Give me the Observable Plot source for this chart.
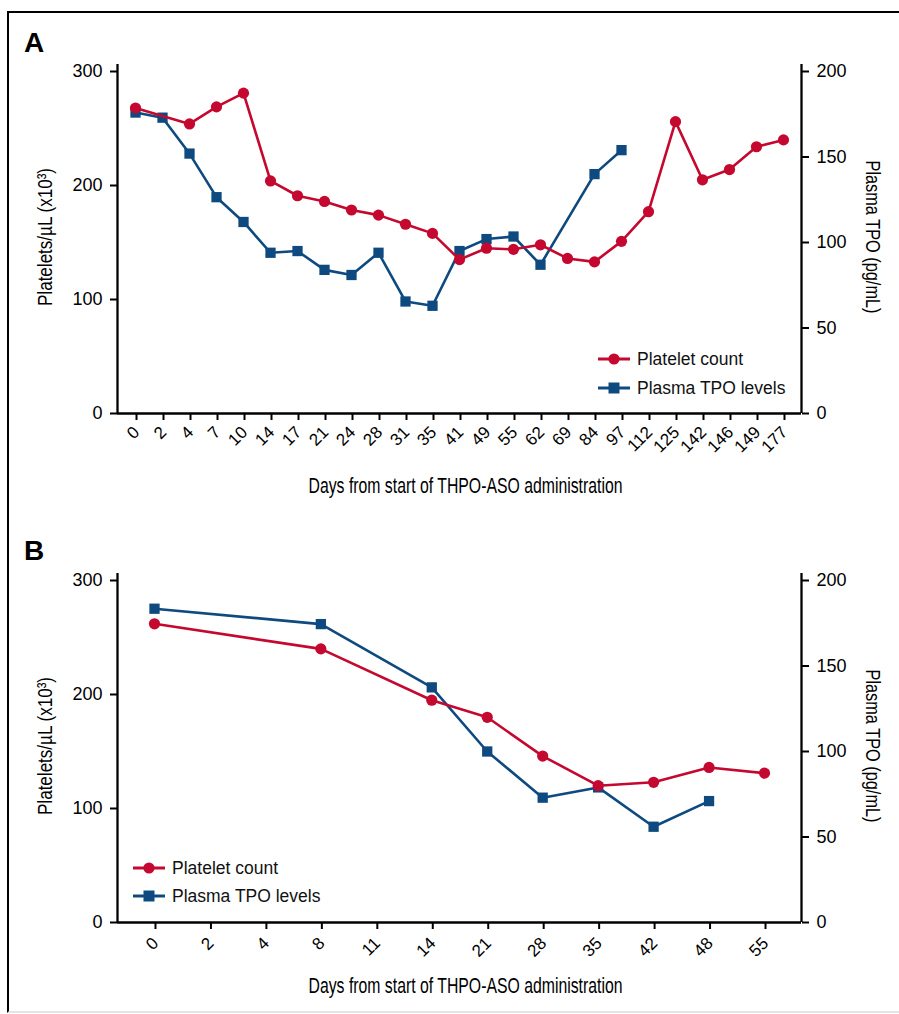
<!DOCTYPE html>
<html><head><meta charset="utf-8">
<script src="https://cdn.jsdelivr.net/npm/d3@7"></script>
<script src="https://cdn.jsdelivr.net/npm/@observablehq/plot@0.6"></script>
<style>
body{margin:0;background:#fff;font-family:"Liberation Sans",Arial,sans-serif;}
#wrap{position:relative;width:899px;height:1014px;overflow:hidden;background:#fff;}
#frame{position:absolute;left:7px;top:11px;width:1000px;height:998px;border-left:2px solid #000;border-top:2px solid #000;border-bottom:2px solid #e4e4e4;}
.panel{position:absolute;left:0;}
.lbl{position:absolute;font:bold 28px "Liberation Sans",Arial,sans-serif;line-height:28px;}
.leg{position:absolute;display:flex;align-items:center;height:20px;font:17.5px "Liberation Sans",Arial,sans-serif;color:#111;white-space:nowrap;}
.leg svg{margin-right:7px;}
</style></head>
<body>
<div id="wrap">
  <div id="frame"></div>
  <div class="lbl" style="left:24px;top:29px;">A</div>
  <div class="lbl" style="left:24px;top:537px;">B</div>
  <div id="pA" class="panel" style="top:0px;"></div>
  <div id="pB" class="panel" style="top:500px;"></div>
  <div id="legA"></div>
  <div id="legB"></div>
</div>
<script>
// ---- data ----
const daysA = ["0","2","4","7","10","14","17","21","24","28","31","35","41","49","55","62","69","84","97","112","125","142","146","149","177"];
const plateletsA = [268,null,254,269,281,204,191,186,178.5,174,166,158,135,145,144,148,136,133,151,177,256,205,214,234,240];
const tpoA = [176,173,152,126.5,112,94,95,84,81,94,65.5,63,95,102,103.5,87,null,140,154,null,null,null,null,null,null];
const daysB = ["0","2","4","8","11","14","21","28","35","42","48","55"];
const plateletsB = [262,null,null,240,null,195,180,146,120,123,136,131];
const tpoB = [183.5,null,null,174.5,null,137.5,100,73,79,56,71,null];
const leftTicks = [0,100,200,300];
const rightTicks = [0,50,100,150,200];
const seriesNames = ["Platelet count","Plasma TPO levels"];
const xTitle = "Days from start of THPO-ASO administration";
const yLeftTitle = "Platelets/µL (x10³)";
const yRightTitle = "Plasma TPO (pg/mL)";

const RED = "#c4082f", BLUE = "#0e4a7f";
const FONT = "'Liberation Sans',Arial,sans-serif";
const ratio = 300/200; // right axis units -> left axis units

function condense(svg, text, len) {
  d3.select(svg).selectAll("text")
    .filter(function(){ return this.textContent === text; })
    .attr("textLength", len).attr("lengthAdjust", "spacingAndGlyphs");
}

function makePanel(days, plt, tpo, height, marginTop, marginBottom, tickPad, titleDy) {
  const n = days.length;
  const pad = 0.667;
  const xmin = -pad, xmax = n - 1 + pad;
  const ytop = 300 * (height - marginTop - marginBottom) / 342;
  const red = plt.map((v,i)=>({i, v})).filter(d=>d.v!=null);
  const blue = tpo.map((v,i)=>({i, v: v==null?null:v*ratio})).filter(d=>d.v!=null);
  const svg = Plot.plot({
    width: 899, height,
    marginLeft: 117, marginRight: 98, marginTop, marginBottom,
    style: {fontFamily: FONT, fontSize: "18px", color: "#000", background: "transparent", overflow: "visible"},
    x: {type: "linear", domain: [xmin, xmax]},
    y: {domain: [0, ytop]},
    marks: [
      Plot.axisY({ticks: leftTicks, tickSize: 7, tickPadding: 8, strokeWidth: 2, fontSize: 18, label: null}),
      Plot.axisY({anchor: "right", ticks: rightTicks.map(v=>v*ratio), tickFormat: d => String(Math.round(d/ratio)), tickSize: 7, tickPadding: 8, strokeWidth: 2, fontSize: 18, label: null}),
      Plot.axisX({ticks: d3.range(n), tickFormat: i => days[i], tickRotate: -45, tickSize: 7, tickPadding: tickPad, dx: 1, strokeWidth: 2, fontSize: 17, label: null}),
      Plot.ruleX([xmin, xmax], {stroke: "#000", strokeWidth: 2.3}),
      Plot.ruleY([0], {stroke: "#000", strokeWidth: 2.3}),
      Plot.line(blue, {x: "i", y: "v", stroke: BLUE, strokeWidth: 2.6}),
      Plot.dot(blue, {x: "i", y: "v", symbol: "square", r: 5.8, fill: BLUE, stroke: null}),
      Plot.line(red, {x: "i", y: "v", stroke: RED, strokeWidth: 2.6}),
      Plot.dot(red, {x: "i", y: "v", symbol: "circle", r: 5.6, fill: RED, stroke: null}),
      Plot.text([xTitle], {text: d=>d, frameAnchor: "bottom", textAnchor: "middle", lineAnchor: "bottom", dx: 6, dy: titleDy, fontFamily: FONT, fontSize: 22, fill: "#000"}),
      Plot.text([yLeftTitle], {text: d=>d, frameAnchor: "left", textAnchor: "middle", lineAnchor: "middle", dx: -72, dy: -2, rotate: -90, fontFamily: FONT, fontSize: 21, fill: "#000"}),
      Plot.text([yRightTitle], {text: d=>d, frameAnchor: "right", textAnchor: "middle", lineAnchor: "middle", dx: 71, dy: -2, rotate: 90, fontFamily: FONT, fontSize: 21, fill: "#000"})
    ]
  });
  condense(svg, xTitle, 314);
  condense(svg, yLeftTitle, 138);
  condense(svg, yRightTitle, 153);
  return svg;
}

document.getElementById("pA").append(makePanel(daysA, plateletsA, tpoA, 500, 64, 87, 9, 79));
document.getElementById("pB").append(makePanel(daysB, plateletsB, tpoB, 514, 73, 92, 11, 70));

function legend(el, left, tops) {
  const colors = [RED, BLUE], syms = ["circle","square"];
  seriesNames.forEach((name, k) => {
    const row = document.createElement("div");
    row.className = "leg";
    row.style.left = left + "px";
    row.style.top = (tops[k] - 10) + "px";
    const mk = syms[k] === "circle"
      ? `<circle cx="16" cy="10" r="5.6" fill="${colors[k]}"/>`
      : `<rect x="10.5" y="4.5" width="11" height="11" fill="${colors[k]}"/>`;
    row.innerHTML = `<svg width="32" height="20"><line x1="0" x2="32" y1="10" y2="10" stroke="${colors[k]}" stroke-width="3"/>${mk}</svg><span>${name}</span>`;
    el.append(row);
  });
}
legend(document.getElementById("legA"), 598, [359, 388]);
legend(document.getElementById("legB"), 133, [868, 896]);
</script>
</body></html>
